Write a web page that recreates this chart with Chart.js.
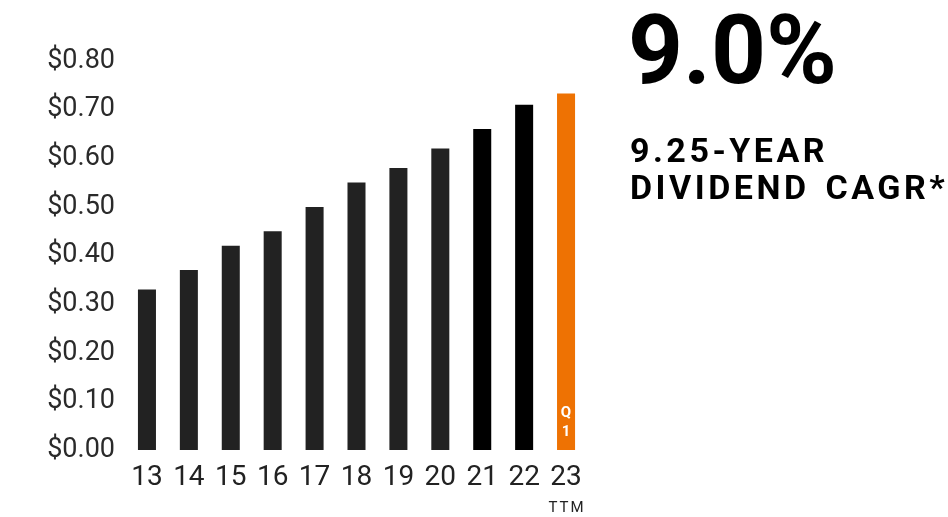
<!DOCTYPE html>
<html lang="en">
<head>
<meta charset="UTF-8">
<title>Dividend CAGR</title>
<script src="https://cdn.jsdelivr.net/npm/chart.js"></script>
<style>
  body { margin: 0; background: #fff; font-family: 'Roboto', sans-serif; }
  .wrap { position: relative; width: 948px; height: 517px; overflow: hidden; }
  .big { position: absolute; left: 628px; top: 2px; font-size: 96px; font-weight: 700; color: #000; line-height: 1; }
  .sub { position: absolute; left: 630px; top: 132px; font-size: 34px; font-weight: 700; color: #000; line-height: 37px; letter-spacing: 3.5px; word-spacing: 4px; white-space: nowrap; }
</style>
</head>
<body>
<div class="wrap">
  <canvas id="chart" width="948" height="517"></canvas>
  <div class="big">9.0%</div>
  <div class="sub">9.25-YEAR<br>DIVIDEND CAGR*</div>
</div>
<script>
  // fiscal years (last one is trailing twelve months)
  const years = ["13", "14", "15", "16", "17", "18", "19", "20", "21", "22", "23"];
  const dividends = [0.33, 0.37, 0.42, 0.45, 0.50, 0.55, 0.58, 0.62, 0.66, 0.71, 0.733];
  const yTicks = [0, 0.1, 0.2, 0.3, 0.4, 0.5, 0.6, 0.7, 0.8];

  const barColors = years.map((y, i) => i === years.length - 1 ? "#ee7203" : (i >= 8 ? "#000000" : "#222222"));

  // extra labels: "Q1" inside the orange bar and "TTM" under the last year
  const extras = {
    id: "extras",
    afterDraw(chart) {
      const ctx = chart.ctx;
      const last = years.length - 1;
      const bar = chart.getDatasetMeta(0).data[last];
      const x = chart.scales.x.getPixelForValue(last);
      ctx.save();
      ctx.fillStyle = "#ffffff";
      ctx.font = "700 15px Roboto";
      ctx.textAlign = "center";
      ctx.textBaseline = "middle";
      ctx.fillText("Q", bar.x, 413);
      ctx.fillText("1", bar.x, 432);
      ctx.fillStyle = "#222222";
      ctx.font = "400 15px Roboto";
      ctx.letterSpacing = "2px";
      ctx.fillText("TTM", x + 1, 508);
      ctx.restore();
    }
  };

  new Chart(document.getElementById("chart"), {
    type: "bar",
    data: {
      labels: years,
      datasets: [{
        data: dividends,
        backgroundColor: barColors,
        barPercentage: 0.43,
        categoryPercentage: 1
      }]
    },
    options: {
      responsive: false,
      animation: false,
      layout: { padding: { top: 61, right: 361, left: 0, bottom: 0 } },
      plugins: { legend: { display: false }, tooltip: { enabled: false } },
      scales: {
        x: {
          grid: { display: false, drawTicks: false },
          border: { display: false },
          ticks: { color: "#222222", font: { family: "Roboto", size: 28 }, padding: 11 },
          afterFit: s => { s.height = 67; }
        },
        y: {
          min: 0,
          max: 0.8,
          afterBuildTicks: s => { s.ticks = yTicks.map(v => ({ value: v })); },
          grid: { display: false, drawTicks: false },
          border: { display: false },
          ticks: {
            color: "#2a2a2a",
            font: { family: "Roboto", size: 27 },
            padding: 11,
            callback: v => "$" + Number(v).toFixed(2)
          },
          afterFit: s => { s.width = 126; }
        }
      }
    },
    plugins: [extras]
  });
</script>
</body>
</html>
